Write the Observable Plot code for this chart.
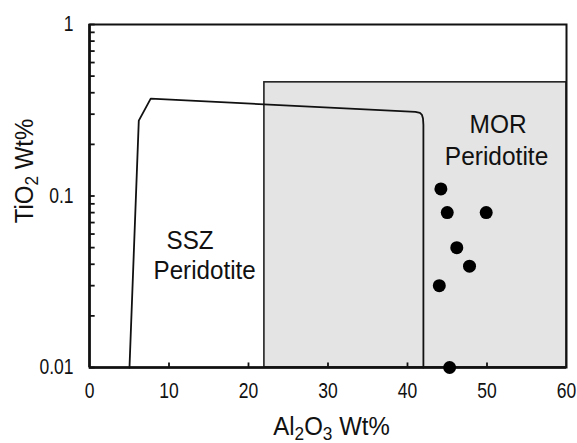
<!DOCTYPE html>
<html><head><meta charset="utf-8">
<script src="https://cdn.jsdelivr.net/npm/d3@7"></script>
<script src="https://cdn.jsdelivr.net/npm/@observablehq/plot@0.6"></script>
<style>
body{margin:0;background:#fff}
svg{font-family:"Liberation Sans",Arial,Helvetica,sans-serif}
</style>
</head><body><div id="chart"></div>
<script>
// Sample points (Al2O3 wt%, TiO2 wt%)
const al2o3 = [44.2, 45.0, 49.9, 46.2, 47.8, 44.0, 45.3];
const tio2  = [0.11, 0.08, 0.08, 0.05, 0.039, 0.03, 0.01];
// MOR peridotite field (grey box)
const morX = [22, 60];
const morY = [0.01, 0.46];
// SSZ peridotite field outline
const sszX = [5.03, 6.2, 7.7, 41.0, 41.57, 41.82, 41.95, 42.0, 42.0];
const sszY = [0.01, 0.275, 0.37, 0.309, 0.305, 0.297, 0.283, 0.26, 0.01];
// Axis ticks
const xLabels = [0, 10, 20, 30, 40, 50, 60];
const xTicks = [10, 20, 30, 40, 50];
const yMajor = [0.01, 0.1, 1];
const yMinor = [0.02,0.03,0.04,0.05,0.06,0.07,0.08,0.09,0.2,0.3,0.4,0.5,0.6,0.7,0.8,0.9];
// Labels
const morLabels = [{t:"MOR", x:51.4, y:0.2345}, {t:"Peridotite", x:51.2, y:0.1507}];
const sszLabels = [{t:"SSZ", x:9.69, y:0.0488}, {t:"Peridotite", x:8.05, y:0.033}];
const xTitle = "Al2O3 Wt%";
const yTitle = "TiO2 Wt%";

const pts = al2o3.map((x, i) => ({x, y: tio2[i]}));
const ssz = sszX.map((x, i) => ({x, y: sszY[i]}));
const yTickRows = yMinor.concat(yMajor).map(y => ({y, a: 0, b: 0.65}));
const xTickRows = xTicks.map(x => ({x, a: 0.01, b: 0.0107}));

const chart = Plot.plot({
  width: 577, height: 443,
  marginLeft: 89, marginRight: 11, marginTop: 24, marginBottom: 76,
  x: {domain: [0, 60]},
  y: {type: "log", domain: [0.01, 1]},
  style: {fontFamily: '"Liberation Sans",Arial,Helvetica,sans-serif', background: "white", color: "#111"},
  marks: [
    Plot.rect([{x1: morX[0], x2: morX[1], y1: morY[0], y2: morY[1]}], {x1: "x1", x2: "x2", y1: "y1", y2: "y2", fill: "#e4e4e4", stroke: "#222", strokeWidth: 1.6}),
    Plot.line(ssz, {x: "x", y: "y", stroke: "#111", strokeWidth: 1.8, curve: "linear"}),
    Plot.link(yTickRows, {x1: "a", x2: "b", y1: "y", y2: "y", stroke: "#111", strokeWidth: 1.8}),
    Plot.link(xTickRows, {x1: "x", x2: "x", y1: "a", y2: "b", stroke: "#111", strokeWidth: 1.8}),
    Plot.frame({stroke: "#111", strokeWidth: 2}),
    Plot.ruleX([0], {stroke: "#111", strokeWidth: 2.6}),
    Plot.ruleY([0.01], {stroke: "#111", strokeWidth: 2.6}),
    Plot.dot(pts, {x: "x", y: "y", r: 6.5, fill: "#000", stroke: "none"}),
    Plot.text(morLabels, {x: "x", y: "y", text: "t", fontSize: 24.5, textAnchor: "middle", lineAnchor: "bottom", fill: "#111"}),
    Plot.text(sszLabels, {x: "x", y: "y", text: "t", fontSize: 24.2, textAnchor: "start", lineAnchor: "bottom", fill: "#111"}),
    Plot.axisX({ticks: xLabels, tickSize: 0, tickPadding: 15, fontSize: 17.5, tickFormat: d => String(d)}),
    Plot.axisY({ticks: yMajor, tickSize: 0, tickPadding: 16, fontSize: 17.5, tickFormat: d => String(d)}),
    Plot.text([xTitle], {frameAnchor: "bottom", dx: 3.5, dy: 67, fontSize: 24, textAnchor: "middle", lineAnchor: "bottom", fill: "#111"}),
    Plot.text([yTitle], {frameAnchor: "left", rotate: -90, dx: -65, dy: -25, fontSize: 24, textAnchor: "middle", lineAnchor: "middle", fill: "#111"})
  ]
});
document.getElementById("chart").appendChild(chart);

// Subscripts in axis titles
d3.select(chart).selectAll("text").each(function() {
  const s = this.textContent;
  let parts = null;
  if (s === xTitle) parts = [["Al",0],["2",1],["O",0],["3",1],[" Wt%",0]];
  if (s === yTitle) parts = [["TiO",0],["2",1],[" Wt%",0]];
  if (!parts) return;
  const el = d3.select(this);
  el.text(null);
  let shifted = false;
  for (const [t, sub] of parts) {
    const ts = el.append("tspan").text(t);
    if (sub) { ts.attr("font-size", "0.72em").attr("dy", shifted ? 0 : 5); shifted = true; }
    else { if (shifted) ts.attr("dy", -5); shifted = false; }
  }
});

// Slight vertical stretch of the lettering, as in the reference
const stretch = {"17.5": 1.22, "24": 1.1, "24.5": 1.08, "24.2": 1.08};
d3.select(chart).selectAll("text").each(function() {
  const fsEl = this.closest("[font-size]");
  const fs = fsEl ? fsEl.getAttribute("font-size").replace("px","") : null;
  const k = stretch[fs] || 1.1;
  const tr = this.getAttribute("transform");
  if (tr && tr.includes("translate")) {
    this.setAttribute("transform", tr + ` scale(1,${k})`);
  } else {
    const x = +(this.getAttribute("x") || 0), y = +(this.getAttribute("y") || 0);
    this.removeAttribute("x"); this.removeAttribute("y");
    this.setAttribute("transform", `translate(${x},${y})${tr ? " " + tr : ""} scale(1,${k})`);
  }
});
</script>
</body></html>
